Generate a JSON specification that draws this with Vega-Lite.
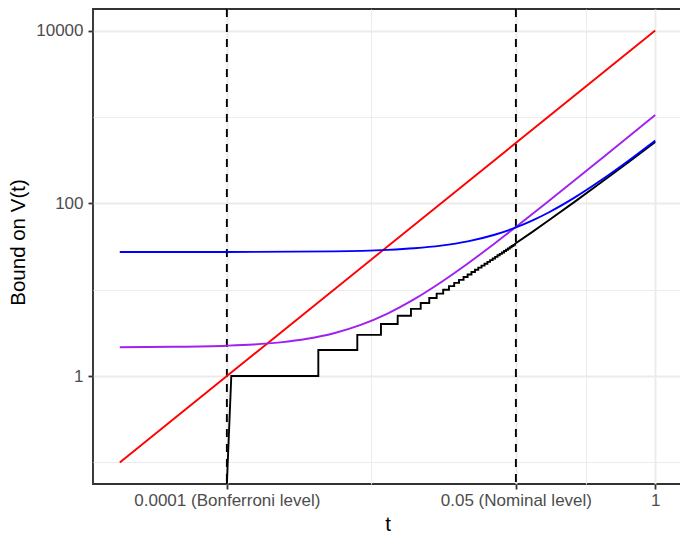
{
  "$schema": "https://vega.github.io/schema/vega-lite/v6.json",
  "width": 589,
  "height": 475,
  "autosize": {"type": "none"},
  "padding": {"left": 93, "top": 9, "right": -2, "bottom": 49},
  "background": "white",
  "config": {
    "view": {"stroke": "#333333", "strokeWidth": 1.9, "fill": "white"},
    "axis": {
      "labelFont": "Liberation Sans",
      "labelFontSize": 17,
      "labelColor": "#4D4D4D",
      "labelLimit": 0,
      "titleFont": "Liberation Sans",
      "titleFontSize": 20.5,
      "titleFontWeight": "normal",
      "titleColor": "#000000",
      "tickColor": "#333333",
      "tickWidth": 1.8,
      "tickSize": 5,
      "domain": false,
      "gridColor": "#EBEBEB",
      "gridWidth": 1.9
    }
  },
  "datasets": {
    "vlines": [{"t": 0.0001}, {"t": 0.05}],
    "stairs": [
      {"i": 0, "t": 0.0001, "v": 0.05623},
      {"i": 1, "t": 0.00011, "v": 1},
      {"i": 2, "t": 0.0007145, "v": 1},
      {"i": 3, "t": 0.0007145, "v": 2},
      {"i": 4, "t": 0.001652, "v": 2},
      {"i": 5, "t": 0.001652, "v": 3},
      {"i": 6, "t": 0.002748, "v": 3},
      {"i": 7, "t": 0.002748, "v": 4},
      {"i": 8, "t": 0.003936, "v": 4},
      {"i": 9, "t": 0.003936, "v": 5},
      {"i": 10, "t": 0.005236, "v": 5},
      {"i": 11, "t": 0.005236, "v": 6},
      {"i": 12, "t": 0.006457, "v": 6},
      {"i": 13, "t": 0.006457, "v": 7},
      {"i": 14, "t": 0.007762, "v": 7},
      {"i": 15, "t": 0.007762, "v": 8},
      {"i": 16, "t": 0.009099, "v": 8},
      {"i": 17, "t": 0.009099, "v": 9},
      {"i": 18, "t": 0.01047, "v": 9},
      {"i": 19, "t": 0.01047, "v": 10},
      {"i": 20, "t": 0.01186, "v": 10},
      {"i": 21, "t": 0.01186, "v": 11},
      {"i": 22, "t": 0.01327, "v": 11},
      {"i": 23, "t": 0.01327, "v": 12},
      {"i": 24, "t": 0.01472, "v": 12},
      {"i": 25, "t": 0.01472, "v": 13},
      {"i": 26, "t": 0.01622, "v": 13},
      {"i": 27, "t": 0.01622, "v": 14},
      {"i": 28, "t": 0.0177, "v": 14},
      {"i": 29, "t": 0.0177, "v": 15},
      {"i": 30, "t": 0.01923, "v": 15},
      {"i": 31, "t": 0.01923, "v": 16},
      {"i": 32, "t": 0.02075, "v": 16},
      {"i": 33, "t": 0.02075, "v": 17},
      {"i": 34, "t": 0.02228, "v": 17},
      {"i": 35, "t": 0.02228, "v": 18},
      {"i": 36, "t": 0.02388, "v": 18},
      {"i": 37, "t": 0.02388, "v": 19},
      {"i": 38, "t": 0.02547, "v": 19},
      {"i": 39, "t": 0.02547, "v": 20},
      {"i": 40, "t": 0.0271, "v": 20},
      {"i": 41, "t": 0.0271, "v": 21},
      {"i": 42, "t": 0.02871, "v": 21},
      {"i": 43, "t": 0.02871, "v": 22},
      {"i": 44, "t": 0.03034, "v": 22},
      {"i": 45, "t": 0.03034, "v": 23},
      {"i": 46, "t": 0.03199, "v": 23},
      {"i": 47, "t": 0.03199, "v": 24},
      {"i": 48, "t": 0.03365, "v": 24},
      {"i": 49, "t": 0.03365, "v": 25},
      {"i": 50, "t": 0.03532, "v": 25},
      {"i": 51, "t": 0.03532, "v": 26},
      {"i": 52, "t": 0.03698, "v": 26},
      {"i": 53, "t": 0.03698, "v": 27},
      {"i": 54, "t": 0.03873, "v": 27},
      {"i": 55, "t": 0.03873, "v": 28},
      {"i": 56, "t": 0.04046, "v": 28},
      {"i": 57, "t": 0.04046, "v": 29},
      {"i": 58, "t": 0.04217, "v": 29},
      {"i": 59, "t": 0.04217, "v": 30},
      {"i": 60, "t": 0.04385, "v": 30},
      {"i": 61, "t": 0.04385, "v": 31},
      {"i": 62, "t": 0.0456, "v": 31},
      {"i": 63, "t": 0.0456, "v": 32},
      {"i": 64, "t": 0.04742, "v": 32},
      {"i": 65, "t": 0.04742, "v": 33},
      {"i": 66, "t": 0.0491, "v": 33},
      {"i": 67, "t": 0.0491, "v": 34},
      {"i": 68, "t": 0.0708, "v": 46.4},
      {"i": 69, "t": 0.1, "v": 62.7},
      {"i": 70, "t": 0.1778, "v": 104.6},
      {"i": 71, "t": 0.3162, "v": 176.7},
      {"i": 72, "t": 0.5623, "v": 298.3},
      {"i": 73, "t": 1, "v": 512}
    ],
    "curves": [
      {"series": "red", "t": 0.00001, "v": 0.1},
      {"series": "red", "t": 1, "v": 10000},
      {"series": "purple", "t": 0.00001, "v": 2.159},
      {"series": "purple", "t": 0.00003162, "v": 2.18},
      {"series": "purple", "t": 0.0001, "v": 2.246},
      {"series": "purple", "t": 0.0001778, "v": 2.32},
      {"series": "purple", "t": 0.0003162, "v": 2.457},
      {"series": "purple", "t": 0.0005623, "v": 2.7},
      {"series": "purple", "t": 0.001, "v": 3.13},
      {"series": "purple", "t": 0.001778, "v": 3.91},
      {"series": "purple", "t": 0.003162, "v": 5.29},
      {"series": "purple", "t": 0.005623, "v": 7.77},
      {"series": "purple", "t": 0.01, "v": 12.2},
      {"series": "purple", "t": 0.01778, "v": 20.1},
      {"series": "purple", "t": 0.03162, "v": 34.3},
      {"series": "purple", "t": 0.05, "v": 53.2},
      {"series": "purple", "t": 0.1, "v": 105},
      {"series": "purple", "t": 0.1778, "v": 186},
      {"series": "purple", "t": 0.3162, "v": 331},
      {"series": "purple", "t": 0.5623, "v": 590},
      {"series": "purple", "t": 1, "v": 1054},
      {"series": "blue", "t": 0.00001, "v": 27.31},
      {"series": "blue", "t": 0.0001, "v": 27.35},
      {"series": "blue", "t": 0.001, "v": 27.8},
      {"series": "blue", "t": 0.003162, "v": 28.9},
      {"series": "blue", "t": 0.005623, "v": 30.14},
      {"series": "blue", "t": 0.01, "v": 32.35},
      {"series": "blue", "t": 0.01778, "v": 36.28},
      {"series": "blue", "t": 0.03162, "v": 43.27},
      {"series": "blue", "t": 0.05, "v": 52.55},
      {"series": "blue", "t": 0.0708, "v": 63.05},
      {"series": "blue", "t": 0.1, "v": 77.8},
      {"series": "blue", "t": 0.1778, "v": 117.1},
      {"series": "blue", "t": 0.3162, "v": 187},
      {"series": "blue", "t": 0.5623, "v": 311.3},
      {"series": "blue", "t": 1, "v": 532.3}
    ]
  },
  "layer": [
    {
      "data": {"name": "vlines"},
      "mark": {"type": "rule", "color": "#000000", "strokeWidth": 1.9, "strokeDash": [8, 7]},
      "encoding": {
        "x": {
          "field": "t", "type": "quantitative",
          "scale": {"type": "log", "domain": [0.0000056234, 1.7783], "nice": false, "zero": false},
          "axis": {"orient": "top", "values": [0.002236, 0.2236], "grid": true, "gridWidth": 0.95, "labels": false, "ticks": false, "domain": false, "title": null}
        }
      }
    },
    {
      "data": {"name": "stairs"},
      "mark": {"type": "line", "color": "#000000", "strokeWidth": 1.9},
      "encoding": {
        "x": {"field": "t", "type": "quantitative", "scale": {"type": "log", "domain": [0.0000056234, 1.7783], "nice": false, "zero": false}, "axis": null},
        "y": {
          "field": "v", "type": "quantitative",
          "scale": {"type": "log", "domain": [0.056234, 17782.8], "nice": false, "zero": false},
          "axis": {"orient": "right", "values": [0.1, 10, 1000], "grid": true, "gridWidth": 0.95, "labels": false, "ticks": false, "domain": false, "title": null}
        },
        "order": {"field": "i", "type": "quantitative"}
      }
    },
    {
      "data": {"name": "curves"},
      "mark": {"type": "line", "strokeWidth": 1.9, "interpolate": "monotone"},
      "encoding": {
        "x": {
          "field": "t", "type": "quantitative",
          "scale": {"type": "log", "domain": [0.0000056234, 1.7783], "nice": false, "zero": false},
          "axis": {
            "orient": "bottom",
            "values": [0.0001, 0.05, 1],
            "labelExpr": "datum.value > 0.5 ? '1' : (datum.value < 0.001 ? '0.0001 (Bonferroni level)' : '0.05 (Nominal level)')",
            "labelPadding": 3,
            "labelFlush": false,
            "labelOverlap": false,
            "grid": true,
            "title": "t",
            "titleY": 46,
            "titleBaseline": "alphabetic"
          }
        },
        "y": {
          "field": "v", "type": "quantitative",
          "scale": {"type": "log", "domain": [0.056234, 17782.8], "nice": false, "zero": false},
          "axis": {
            "orient": "left",
            "values": [1, 100, 10000],
            "format": "d",
            "labelPadding": 5,
            "grid": true,
            "title": "Bound on V(t)",
            "titleX": -69,
            "titleY": 233,
            "titleAngle": -90,
            "titleAlign": "center",
            "titleBaseline": "alphabetic"
          }
        },
        "color": {
          "field": "series", "type": "nominal",
          "scale": {"domain": ["red", "purple", "blue"], "range": ["#FF0000", "#A020F0", "#0000FF"]},
          "legend": null
        }
      }
    }
  ],
  "resolve": {"axis": {"x": "independent", "y": "independent"}}
}
